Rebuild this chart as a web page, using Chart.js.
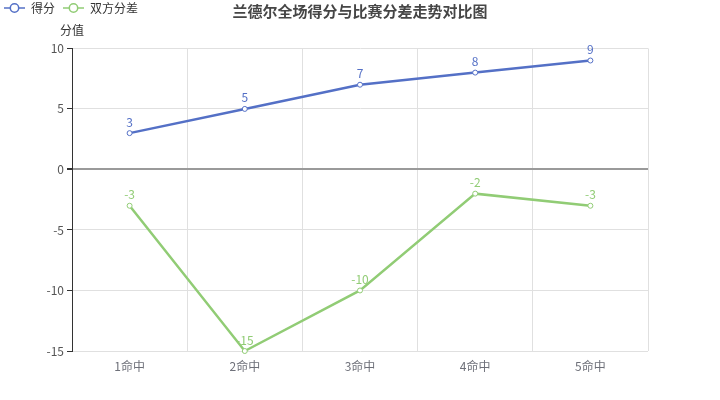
<!DOCTYPE html>
<html>
<head>
<meta charset="utf-8">
<script src="https://cdn.jsdelivr.net/npm/chart.js@4/dist/chart.umd.min.js"></script>
<style>
body{margin:0;background:#fff;}
#wrap{width:720px;height:400px;}
</style>
</head>
<body>
<div id="wrap"><canvas id="grafica" width="720" height="400"></canvas></div>
<script>
const categorias=['1命中','2命中','3命中','4命中','5命中'];
const defen=[3,5,7,8,9];
const fencha=[-3,-15,-10,-2,-3];
const ticksY=[-15,-10,-5,0,5,10];

const AZUL='#5470c6';
const VERDE='#91cc75';
const FUENTE='"Noto Sans CJK SC","Noto Sans",sans-serif';

// icono de leyenda: linea con circulo
function iconoLeyenda(color){
    let c=document.createElement('canvas');
    c.width=21;c.height=12;
    let g=c.getContext('2d');
    g.strokeStyle=color;g.lineWidth=1.5;
    g.beginPath();g.moveTo(0,6);g.lineTo(21,6);g.stroke();
    g.fillStyle='#fff';
    g.beginPath();g.arc(10.5,6,4.2,0,Math.PI*2);g.fill();g.stroke();
    return c;
}

const textos={
    id:'textos',
    afterDraw(chart){
        let g=chart.ctx;
        g.save();
        g.fillStyle='#464646';
        g.font='bold 15px '+FUENTE;
        g.textAlign='center';g.textBaseline='middle';
        g.fillText('兰德尔全场得分与比赛分差走势对比图',360,11);
        g.fillStyle='#333';
        g.font='12px '+FUENTE;
        g.fillText('分值',chart.chartArea.left,30);
        g.restore();
    },
    afterDatasetsDraw(chart){
        let g=chart.ctx;
        g.save();
        g.font='12px '+FUENTE;
        g.textAlign='center';g.textBaseline='bottom';
        chart.data.datasets.forEach((ds,i)=>{
            g.fillStyle=ds.borderColor;
            chart.getDatasetMeta(i).data.forEach((p,j)=>{
                g.fillText(String(ds.data[j]),p.x,p.y-5);
            });
        });
        g.restore();
    }
};

new Chart(document.getElementById('grafica'),{
    type:'line',
    data:{
        labels:categorias,
        datasets:[{
            label:'得分',
            data:defen,
            borderColor:AZUL,
            backgroundColor:'#fff',
            borderWidth:2.5,
            pointRadius:2.5,
            pointBorderWidth:1,
            pointBackgroundColor:'#fff',
            clip:false
        },{
            label:'双方分差',
            data:fencha,
            borderColor:VERDE,
            backgroundColor:'#fff',
            borderWidth:2.5,
            pointRadius:2.5,
            pointBorderWidth:1,
            pointBackgroundColor:'#fff',
            clip:false
        }]
    },
    options:{
        responsive:false,
        animation:false,
        layout:{padding:{left:-4,right:72,top:-6,bottom:0}},
        plugins:{
            title:{display:false},
            // espaciador entre leyenda y grafica
            subtitle:{display:true,text:' ',weight:500,font:{size:12},padding:{top:5,bottom:5}},
            tooltip:{enabled:false},
            legend:{
                display:true,
                position:'top',
                align:'start',
                weight:3000,
                labels:{
                    usePointStyle:true,
                    pointStyleWidth:21,
                    padding:8,
                    color:'#333',
                    font:{size:12,family:FUENTE},
                    generateLabels(chart){
                        return chart.data.datasets.map((ds,i)=>({
                            text:ds.label,
                            pointStyle:iconoLeyenda(ds.borderColor),
                            fillStyle:'#fff',
                            strokeStyle:ds.borderColor,
                            lineWidth:0,
                            fontColor:'#333',
                            datasetIndex:i,
                            hidden:false
                        }));
                    }
                }
            }
        },
        scales:{
            x:{
                offset:true,
                grid:{offset:true,color:'#e0e0e0',drawTicks:false},
                border:{display:false},
                ticks:{color:'#6e7079',padding:8,font:{size:12,family:FUENTE}},
                afterFit(s){s.height=49;}
            },
            y:{
                min:-15,max:10,
                afterBuildTicks(s){s.ticks=ticksY.map(v=>({value:v}));},
                grid:{
                    color:c=>c.tick&&c.tick.value===0?'#9a9a9a':'#e0e0e0',
                    lineWidth:c=>c.tick&&c.tick.value===0?2:1,
                    tickColor:'#333',
                    tickLength:5
                },
                border:{display:true,color:'#333',width:1},
                ticks:{color:'#555',padding:3,font:{size:12,family:FUENTE}},
                afterFit(s){s.width=76;}
            }
        }
    },
    plugins:[textos]
});
</script>
</body>
</html>
